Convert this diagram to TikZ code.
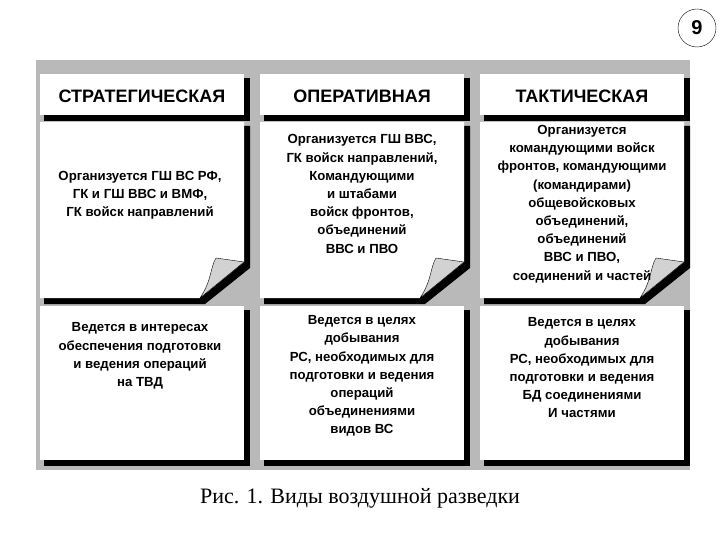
\documentclass[tikz,border=0pt]{standalone}
\usepackage{fontspec}
\setmainfont{Liberation Sans}
\newfontfamily\capfont{Liberation Serif}
\begin{document}
\begin{tikzpicture}[x=1pt,y=-1pt,
  hdr/.style={font=\bfseries\fontsize{18}{20}\selectfont},
  txt/.style={font=\bfseries\fontsize{13.2}{18.2}\selectfont,align=center},
  shade/.style={fill=black},
  sheet/.style={fill=white}]
\useasboundingbox (0,0) rectangle (720,540);
\fill[gray!55] (36,60) rectangle (690,470);
\node[draw,circle,minimum size=38pt,inner sep=0pt,font=\bfseries\fontsize{20}{22}\selectfont] (num) at (697,28) {9};
\foreach \x/\i in {40/1,260/2,480/3}{
  \fill[shade] (\x+4,78) rectangle (\x+210,121);
  \fill[sheet] (\x,74) rectangle (\x+204,115);
  \fill[shade] (\x+4,126) -- (\x+210,126) -- (\x+210,268) -- (\x+165,304) -- (\x+4,304) -- cycle;
  \fill[sheet] (\x,122) -- (\x+204,122) -- (\x+204,262) -- (\x+160,298) -- (\x,298) -- cycle;
  \fill[gray!35,draw=black,line width=0.4pt] (\x+160,298) .. controls (\x+172,280) and (\x+170,268) .. (\x+176,258) -- (\x+204,262) -- cycle;
  \fill[shade] (\x+4,310) rectangle (\x+210,466);
  \fill[sheet] (\x,306) rectangle (\x+204,460);
}
\node[hdr] (h1) at (142,96) {СТРАТЕГИЧЕСКАЯ};
\node[hdr] (h2) at (362,96) {ОПЕРАТИВНАЯ};
\node[hdr] (h3) at (582,96) {ТАКТИЧЕСКАЯ};
\node[txt] (m1) at (140,195) {Организуется ГШ ВС РФ,\\ГК и ГШ ВВС и ВМФ,\\ГК войск направлений};
\node[txt] (m2) at (362,194) {Организуется ГШ ВВС,\\ГК войск направлений,\\Командующими\\и штабами\\войск фронтов,\\объединений\\ВВС и ПВО};
\node[txt] (m3) at (582,204) {Организуется\\командующими войск\\фронтов, командующими\\(командирами)\\общевойсковых\\объединений,\\объединений\\ВВС и ПВО,\\соединений и частей};
\node[txt] (b1) at (140,356) {Ведется в интересах\\обеспечения подготовки\\и ведения операций\\на ТВД};
\node[txt] (b2) at (362,376) {Ведется в целях\\добывания\\РС, необходимых для\\подготовки и ведения\\операций\\объединениями\\видов ВС};
\node[txt] (b3) at (582,368) {Ведется в целях\\добывания\\РС, необходимых для\\подготовки и ведения\\БД соединениями\\И частями};
\node[font=\capfont\fontsize{22}{24}\selectfont] (cap) at (360,498) {Рис. 1. Виды воздушной разведки};
\end{tikzpicture}
\end{document}
